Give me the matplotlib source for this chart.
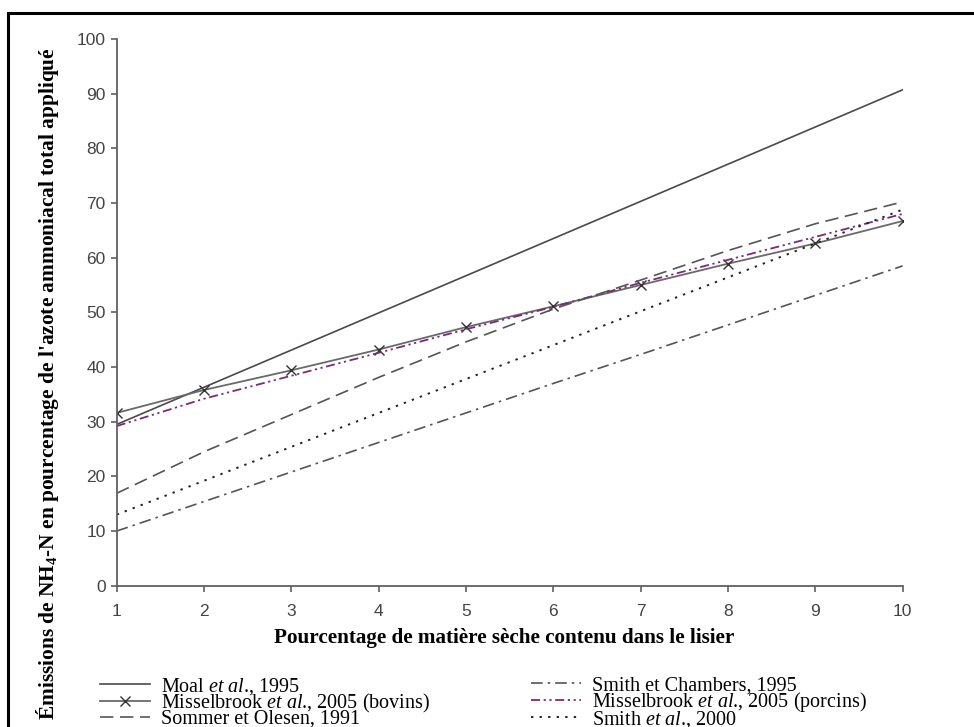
import matplotlib
matplotlib.use("Agg")
import matplotlib.pyplot as plt
from matplotlib.patches import Rectangle

plt.rcParams['mathtext.fontset'] = 'custom'
plt.rcParams['mathtext.rm'] = 'Liberation Serif'
plt.rcParams['mathtext.it'] = 'Liberation Serif:italic'
plt.rcParams['mathtext.bf'] = 'Liberation Serif:bold'

# ---- data ----
dry_matter = [1, 2, 3, 4, 5, 6, 7, 8, 9, 10]
moal_1995 = [29.5, 36.3, 43.1, 49.9, 56.7, 63.5, 70.3, 77.1, 83.9, 90.7]
misselbrook_bovins = [31.6, 35.8, 39.4, 43.2, 47.3, 51.1, 55.0, 58.9, 62.6, 66.7]
misselbrook_porcins = [29.2, 34.2, 38.4, 42.6, 46.9, 51.0, 55.4, 59.6, 63.8, 68.0]
sommer_olesen_1991 = [16.9, 24.5, 31.3, 38.1, 44.6, 50.6, 55.9, 61.3, 66.2, 70.2]
smith_chambers_1995 = [10.0, 15.4, 20.8, 26.2, 31.6, 37.0, 42.3, 47.7, 53.1, 58.5]
smith_2000 = [13.0, 19.2, 25.4, 31.6, 37.8, 44.0, 50.2, 56.4, 62.6, 68.8]

x_ticks = [1, 2, 3, 4, 5, 6, 7, 8, 9, 10]
y_ticks = [0, 10, 20, 30, 40, 50, 60, 70, 80, 90, 100]

labels = {
    'moal': r"Moal $\mathit{et\ al}$., 1995",
    'bov': r"Misselbrook $\mathit{et\ al}$., 2005 (bovins)",
    'som': "Sommer et Olesen, 1991",
    'cha': "Smith et Chambers, 1995",
    'por': r"Misselbrook $\mathit{et\ al}$., 2005 (porcins)",
    'smi': r"Smith $\mathit{et\ al}$., 2000",
}

W, H = 974, 727
fig = plt.figure(figsize=(W / 100, H / 100), dpi=100)
ax = fig.add_axes([116.7 / W, 1 - 585.7 / H, (902.6 - 116.7) / W, (585.7 - 39.0) / H])

l_moal, = ax.plot(dry_matter, moal_1995, color='#4a4a4a', lw=1.2)
l_bov, = ax.plot(dry_matter, misselbrook_bovins, color='#6a6a6a', lw=1.3,
                 marker='x', ms=7, mec='#333333', mew=1.0)
l_por, = ax.plot(dry_matter, misselbrook_porcins, color='#7b2a7b', lw=1.3,
                 dashes=(5, 2, 1.2, 2, 1.2, 2))
l_som, = ax.plot(dry_matter, sommer_olesen_1991, color='#555555', lw=1.2,
                 dashes=(8, 4))
l_cha, = ax.plot(dry_matter, smith_chambers_1995, color='#555555', lw=1.2,
                 dashes=(7, 3, 1.5, 3))
l_smi, = ax.plot(dry_matter, smith_2000, color='#222222', lw=1.4,
                 dashes=(1.2, 3.2))

ax.set_xlim(1, 10)
ax.set_ylim(0, 100)
ax.set_xticks(x_ticks)
ax.set_yticks(y_ticks)
for s in ['top', 'right']:
    ax.spines[s].set_visible(False)
for s in ['left', 'bottom']:
    ax.spines[s].set_color('#606060')
    ax.spines[s].set_linewidth(1.3)
ax.tick_params(axis='both', direction='out', length=4, width=1.2, color='#606060',
               labelcolor='#444444', labelsize=12.5)
ax.tick_params(axis='x', pad=9)
ax.tick_params(axis='y', pad=4)
for t in ax.get_xticklabels() + ax.get_yticklabels():
    t.set_fontfamily('Liberation Sans')

ax.set_xlabel("Pourcentage de matière sèche contenu dans le lisier",
              fontfamily='Liberation Serif', fontweight='bold', fontsize=15.2)
ax.xaxis.set_label_coords((504 - 116.7) / 785.9, -(628 - 585.7) / 546.7)
ax.set_ylabel(r"Émissions de NH$_\mathbf{4}$-N en pourcentage de l'azote ammoniacal total appliqué",
              fontfamily='Liberation Serif', fontweight='bold', fontsize=15.4)
ax.yaxis.set_label_coords((61 - 116.7) / 785.9, (585.7 - 384) / 546.7)

leg_kw = dict(frameon=False, prop={'family': 'Liberation Serif', 'size': 14.5},
              handlelength=2.5, handletextpad=0.55, labelspacing=-0.25,
              borderpad=0, borderaxespad=0, loc='upper left')
leg1 = fig.legend([l_moal, l_bov, l_som], [labels['moal'], labels['bov'], labels['som']],
                  bbox_to_anchor=(100 / W, 1 - 676 / H), **leg_kw)
leg2 = fig.legend([l_cha, l_por, l_smi], [labels['cha'], labels['por'], labels['smi']],
                  bbox_to_anchor=(531 / W, 1 - 676 / H), **leg_kw)

fig.add_artist(Rectangle((8 / W, -0.05), (980 - 8) / W, 1 - 13 / H + 0.05,
                         transform=fig.transFigure, fill=False, ec='black', lw=2.2))

fig.savefig('out.png', dpi=100)
